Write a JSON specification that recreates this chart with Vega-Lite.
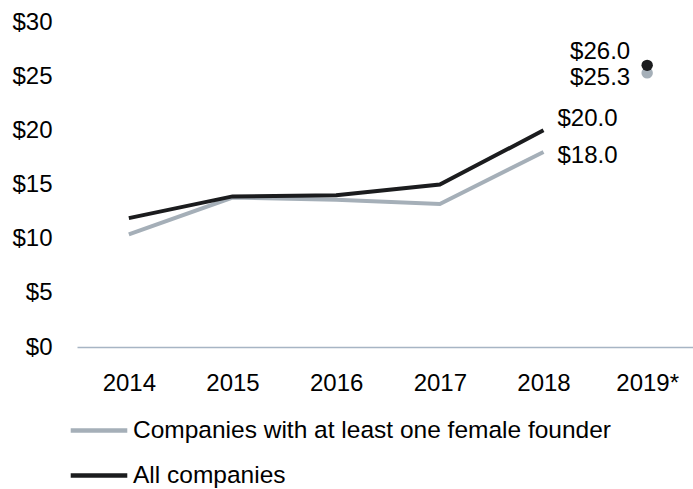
{
  "$schema": "https://vega.github.io/schema/vega-lite/v6.json",
  "width": 622,
  "height": 325,
  "autosize": {"type": "none"},
  "padding": {"left": 77, "top": 22, "right": 0, "bottom": 142},
  "config": {
    "view": {"stroke": null},
    "font": "Liberation Sans",
    "text": {"font": "Liberation Sans"}
  },
  "data": {
    "values": [
      {"year": "2014", "series": "All companies", "value": 11.9},
      {"year": "2015", "series": "All companies", "value": 13.9},
      {"year": "2016", "series": "All companies", "value": 14.0},
      {"year": "2017", "series": "All companies", "value": 15.0},
      {"year": "2018", "series": "All companies", "value": 20.0},
      {"year": "2019*", "series": "All companies", "value": 26.0},
      {"year": "2014", "series": "Companies with at least one female founder", "value": 10.4},
      {"year": "2015", "series": "Companies with at least one female founder", "value": 13.8},
      {"year": "2016", "series": "Companies with at least one female founder", "value": 13.6},
      {"year": "2017", "series": "Companies with at least one female founder", "value": 13.2},
      {"year": "2018", "series": "Companies with at least one female founder", "value": 18.0},
      {"year": "2019*", "series": "Companies with at least one female founder", "value": 25.3}
    ]
  },
  "encoding": {
    "x": {
      "field": "year",
      "type": "ordinal",
      "sort": null,
      "scale": {"type": "point", "padding": 0.5, "domain": ["2014", "2015", "2016", "2017", "2018", "2019*"]},
      "axis": {
        "title": null,
        "labelAngle": 0,
        "ticks": false,
        "grid": false,
        "domainColor": "#A7B5C4",
        "domainWidth": 1.3,
        "labelFontSize": 24,
        "labelColor": "#000000",
        "labelPadding": 24,
        "labelFont": "Liberation Sans"
      }
    },
    "y": {
      "field": "value",
      "type": "quantitative",
      "scale": {"domain": [0, 30], "nice": false},
      "axis": {
        "title": null,
        "domain": false,
        "ticks": false,
        "grid": false,
        "values": [0, 5, 10, 15, 20, 25, 30],
        "format": "$,.0f",
        "labelFontSize": 24,
        "labelColor": "#000000",
        "labelPadding": 25,
        "labelFont": "Liberation Sans"
      }
    },
    "color": {
      "field": "series",
      "type": "nominal",
      "scale": {
        "domain": ["Companies with at least one female founder", "All companies"],
        "range": ["#A5AFB8", "#1B1C1E"]
      },
      "legend": {
        "title": null,
        "orient": "none",
        "legendX": -9,
        "legendY": 386,
        "direction": "vertical",
        "symbolType": "stroke",
        "symbolSize": 3200,
        "symbolStrokeWidth": 4.5,
        "labelFontSize": 24.5,
        "labelFont": "Liberation Sans",
        "labelColor": "#000000",
        "labelOffset": 3,
        "labelLimit": 0,
        "clipHeight": 45,
        "rowPadding": 0,
        "padding": 0
      }
    }
  },
  "layer": [
    {
      "transform": [{"filter": "datum.year !== '2019*' && datum.series === 'Companies with at least one female founder'"}],
      "mark": {"type": "line", "strokeWidth": 4}
    },
    {
      "transform": [{"filter": "datum.year !== '2019*' && datum.series === 'All companies'"}],
      "mark": {"type": "line", "strokeWidth": 4}
    },
    {
      "transform": [{"filter": "datum.year === '2019*' && datum.series === 'Companies with at least one female founder'"}],
      "mark": {"type": "point", "filled": true, "opacity": 1, "size": 130}
    },
    {
      "transform": [{"filter": "datum.year === '2019*' && datum.series === 'All companies'"}],
      "mark": {"type": "point", "filled": true, "opacity": 1, "size": 130}
    },
    {
      "transform": [{"filter": "datum.year === '2018' && datum.series === 'All companies'"}],
      "mark": {"type": "text", "align": "left", "baseline": "middle", "dx": 14, "dy": -11, "fontSize": 24},
      "encoding": {"text": {"field": "value", "type": "quantitative", "format": "$.1f"}, "color": {"value": "#000000"}}
    },
    {
      "transform": [{"filter": "datum.year === '2018' && datum.series === 'Companies with at least one female founder'"}],
      "mark": {"type": "text", "align": "left", "baseline": "middle", "dx": 14, "dy": 3.5, "fontSize": 24},
      "encoding": {"text": {"field": "value", "type": "quantitative", "format": "$.1f"}, "color": {"value": "#000000"}}
    },
    {
      "transform": [{"filter": "datum.year === '2019*' && datum.series === 'All companies'"}],
      "mark": {"type": "text", "align": "right", "baseline": "middle", "dx": -17, "dy": -13, "fontSize": 24},
      "encoding": {"text": {"field": "value", "type": "quantitative", "format": "$.1f"}, "color": {"value": "#000000"}}
    },
    {
      "transform": [{"filter": "datum.year === '2019*' && datum.series === 'Companies with at least one female founder'"}],
      "mark": {"type": "text", "align": "right", "baseline": "middle", "dx": -17, "dy": 5, "fontSize": 24},
      "encoding": {"text": {"field": "value", "type": "quantitative", "format": "$.1f"}, "color": {"value": "#000000"}}
    }
  ]
}
